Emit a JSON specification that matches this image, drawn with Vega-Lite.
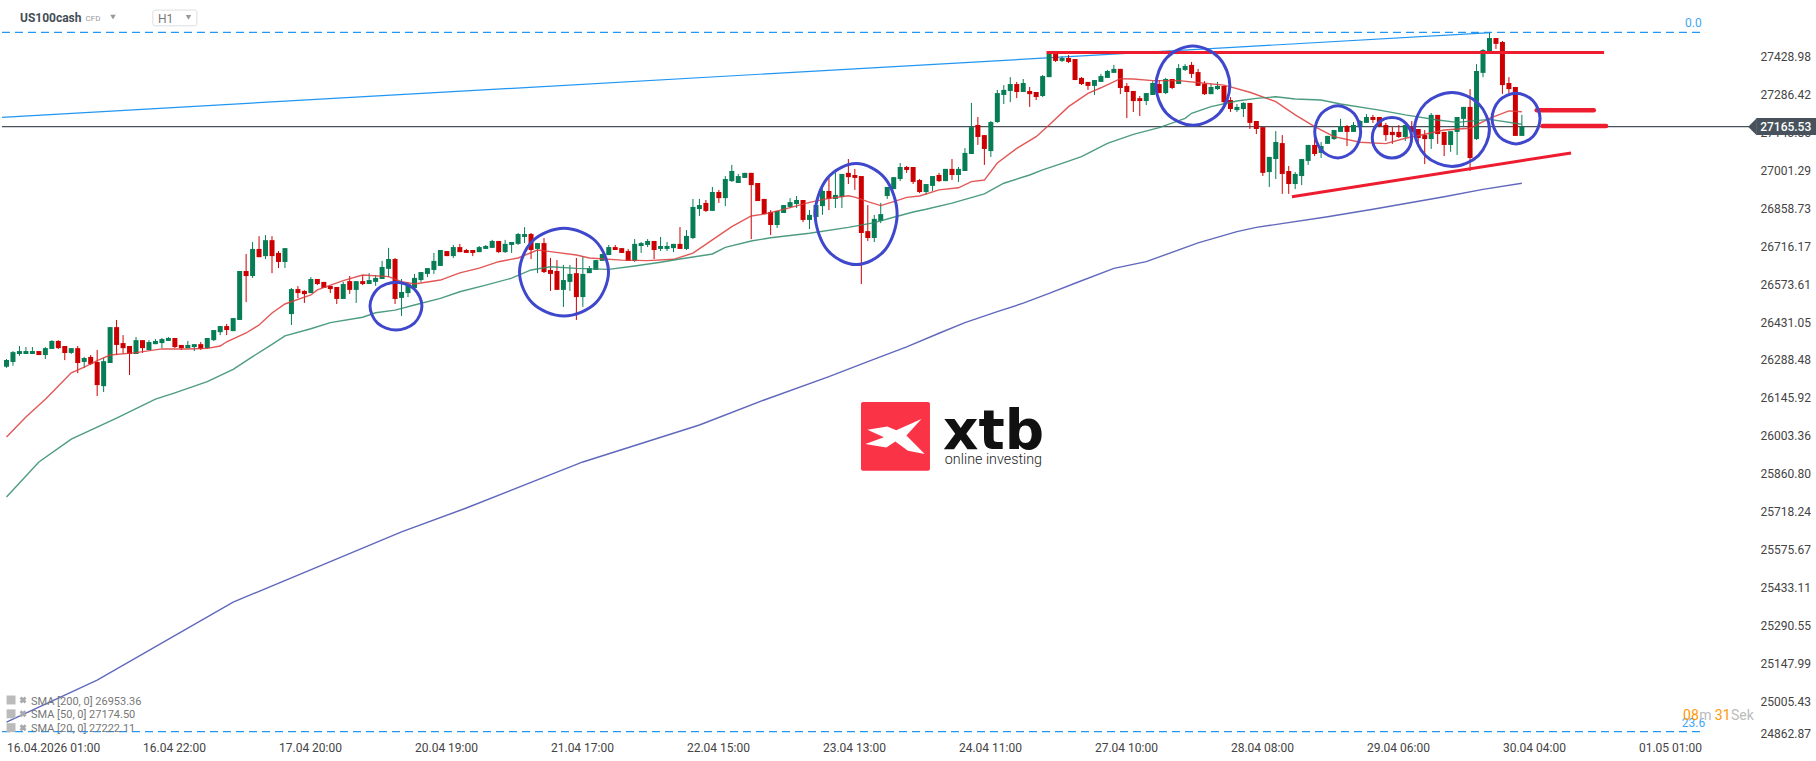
{
"$schema":"https://vega.github.io/schema/vega-lite/v6.json",
"width":1816,"height":761,"padding":0,"autosize":{"type":"none"},"background":"white",
"config":{"view":{"stroke":null}},
"datasets":{
"candles":[
{"bar":0,"o":26263,"h":26292,"l":26259,"c":26288},{"bar":1,"o":26281,"h":26322,"l":26267,"c":26318},{"bar":2,"o":26311,"h":26341,"l":26304,"c":26322},{"bar":3,"o":26311,"h":26337,"l":26311,"c":26322},{"bar":4,"o":26311,"h":26337,"l":26311,"c":26322},{"bar":5,"o":26322,"h":26322,"l":26307,"c":26307},{"bar":6,"o":26307,"h":26337,"l":26292,"c":26333},{"bar":7,"o":26330,"h":26363,"l":26330,"c":26360},{"bar":8,"o":26360,"h":26363,"l":26330,"c":26333},{"bar":9,"o":26341,"h":26341,"l":26288,"c":26315},
{"bar":10,"o":26315,"h":26333,"l":26311,"c":26333},{"bar":11,"o":26333,"h":26341,"l":26239,"c":26277},{"bar":12,"o":26281,"h":26300,"l":26258,"c":26296},{"bar":13,"o":26300,"h":26307,"l":26269,"c":26273},{"bar":14,"o":26281,"h":26326,"l":26153,"c":26194},{"bar":15,"o":26190,"h":26296,"l":26168,"c":26284},{"bar":16,"o":26277,"h":26412,"l":26277,"c":26412},{"bar":17,"o":26412,"h":26439,"l":26307,"c":26345},{"bar":18,"o":26352,"h":26382,"l":26311,"c":26333},{"bar":19,"o":26341,"h":26341,"l":26232,"c":26311},
{"bar":20,"o":26311,"h":26375,"l":26311,"c":26363},{"bar":21,"o":26363,"h":26363,"l":26315,"c":26333},{"bar":22,"o":26326,"h":26363,"l":26326,"c":26356},{"bar":23,"o":26348,"h":26367,"l":26348,"c":26360},{"bar":24,"o":26352,"h":26371,"l":26333,"c":26367},{"bar":25,"o":26360,"h":26375,"l":26360,"c":26371},{"bar":26,"o":26371,"h":26371,"l":26333,"c":26337},{"bar":27,"o":26345,"h":26345,"l":26326,"c":26333},{"bar":28,"o":26333,"h":26360,"l":26333,"c":26345},{"bar":29,"o":26337,"h":26348,"l":26322,"c":26348},
{"bar":30,"o":26348,"h":26356,"l":26326,"c":26330},{"bar":31,"o":26333,"h":26371,"l":26333,"c":26371},{"bar":32,"o":26363,"h":26401,"l":26360,"c":26401},{"bar":33,"o":26393,"h":26416,"l":26382,"c":26416},{"bar":34,"o":26416,"h":26424,"l":26382,"c":26401},{"bar":35,"o":26397,"h":26446,"l":26397,"c":26446},{"bar":36,"o":26439,"h":26623,"l":26439,"c":26623},{"bar":37,"o":26623,"h":26687,"l":26506,"c":26604},{"bar":38,"o":26604,"h":26732,"l":26597,"c":26706},{"bar":39,"o":26706,"h":26754,"l":26675,"c":26675},
{"bar":40,"o":26679,"h":26758,"l":26668,"c":26739},{"bar":41,"o":26739,"h":26754,"l":26615,"c":26679},{"bar":42,"o":26691,"h":26698,"l":26634,"c":26657},{"bar":43,"o":26657,"h":26709,"l":26634,"c":26709},{"bar":44,"o":26461,"h":26559,"l":26420,"c":26555},{"bar":45,"o":26555,"h":26566,"l":26521,"c":26540},{"bar":46,"o":26548,"h":26551,"l":26503,"c":26536},{"bar":47,"o":26540,"h":26600,"l":26540,"c":26593},{"bar":48,"o":26593,"h":26593,"l":26570,"c":26574},{"bar":49,"o":26582,"h":26582,"l":26559,"c":26559},
{"bar":50,"o":26567,"h":26567,"l":26540,"c":26555},{"bar":51,"o":26563,"h":26563,"l":26499,"c":26518},{"bar":52,"o":26518,"h":26582,"l":26518,"c":26574},{"bar":53,"o":26585,"h":26604,"l":26537,"c":26552},{"bar":54,"o":26552,"h":26585,"l":26503,"c":26585},{"bar":55,"o":26585,"h":26608,"l":26570,"c":26574},{"bar":56,"o":26574,"h":26615,"l":26574,"c":26589},{"bar":57,"o":26582,"h":26608,"l":26567,"c":26597},{"bar":58,"o":26593,"h":26661,"l":26593,"c":26638},{"bar":59,"o":26631,"h":26710,"l":26600,"c":26668},
{"bar":60,"o":26668,"h":26672,"l":26499,"c":26518},{"bar":61,"o":26522,"h":26593,"l":26454,"c":26544},{"bar":62,"o":26540,"h":26582,"l":26525,"c":26574},{"bar":63,"o":26559,"h":26612,"l":26559,"c":26597},{"bar":64,"o":26589,"h":26619,"l":26582,"c":26619},{"bar":65,"o":26612,"h":26634,"l":26600,"c":26634},{"bar":66,"o":26627,"h":26691,"l":26612,"c":26661},{"bar":67,"o":26642,"h":26702,"l":26642,"c":26702},{"bar":68,"o":26698,"h":26698,"l":26679,"c":26679},{"bar":69,"o":26679,"h":26721,"l":26672,"c":26713},
{"bar":70,"o":26713,"h":26725,"l":26694,"c":26694},{"bar":71,"o":26702,"h":26706,"l":26691,"c":26691},{"bar":72,"o":26702,"h":26702,"l":26679,"c":26691},{"bar":73,"o":26694,"h":26717,"l":26694,"c":26713},{"bar":74,"o":26706,"h":26721,"l":26706,"c":26717},{"bar":75,"o":26710,"h":26740,"l":26710,"c":26736},{"bar":76,"o":26736,"h":26736,"l":26691,"c":26694},{"bar":77,"o":26694,"h":26740,"l":26691,"c":26725},{"bar":78,"o":26721,"h":26732,"l":26691,"c":26732},{"bar":79,"o":26725,"h":26766,"l":26721,"c":26762},
{"bar":80,"o":26751,"h":26788,"l":26728,"c":26762},{"bar":81,"o":26762,"h":26766,"l":26668,"c":26702},{"bar":82,"o":26706,"h":26728,"l":26615,"c":26728},{"bar":83,"o":26728,"h":26747,"l":26615,"c":26619},{"bar":84,"o":26627,"h":26672,"l":26548,"c":26612},{"bar":85,"o":26623,"h":26664,"l":26552,"c":26552},{"bar":86,"o":26552,"h":26646,"l":26488,"c":26589},{"bar":87,"o":26582,"h":26646,"l":26548,"c":26612},{"bar":88,"o":26615,"h":26672,"l":26439,"c":26525},{"bar":89,"o":26525,"h":26679,"l":26488,"c":26612},
{"bar":90,"o":26615,"h":26642,"l":26615,"c":26634},{"bar":91,"o":26627,"h":26664,"l":26627,"c":26664},{"bar":92,"o":26661,"h":26687,"l":26661,"c":26687},{"bar":93,"o":26683,"h":26721,"l":26683,"c":26713},{"bar":94,"o":26713,"h":26721,"l":26702,"c":26702},{"bar":95,"o":26709,"h":26709,"l":26691,"c":26691},{"bar":96,"o":26698,"h":26706,"l":26661,"c":26661},{"bar":97,"o":26661,"h":26743,"l":26657,"c":26725},{"bar":98,"o":26717,"h":26732,"l":26691,"c":26728},{"bar":99,"o":26721,"h":26743,"l":26713,"c":26736},
{"bar":100,"o":26736,"h":26736,"l":26668,"c":26702},{"bar":101,"o":26706,"h":26751,"l":26698,"c":26717},{"bar":102,"o":26706,"h":26732,"l":26698,"c":26717},{"bar":103,"o":26709,"h":26725,"l":26694,"c":26725},{"bar":104,"o":26725,"h":26788,"l":26706,"c":26706},{"bar":105,"o":26706,"h":26777,"l":26702,"c":26755},{"bar":106,"o":26747,"h":26894,"l":26743,"c":26864},{"bar":107,"o":26856,"h":26894,"l":26830,"c":26871},{"bar":108,"o":26879,"h":26890,"l":26845,"c":26849},{"bar":109,"o":26849,"h":26939,"l":26849,"c":26920},
{"bar":110,"o":26920,"h":26928,"l":26879,"c":26897},{"bar":111,"o":26897,"h":26980,"l":26867,"c":26969},{"bar":112,"o":26961,"h":27022,"l":26958,"c":26999},{"bar":113,"o":26954,"h":26988,"l":26954,"c":26980},{"bar":114,"o":26973,"h":26992,"l":26973,"c":26992},{"bar":115,"o":26992,"h":26992,"l":26743,"c":26946},{"bar":116,"o":26954,"h":26954,"l":26886,"c":26886},{"bar":117,"o":26894,"h":26894,"l":26837,"c":26837},{"bar":118,"o":26845,"h":26852,"l":26758,"c":26796},{"bar":119,"o":26796,"h":26849,"l":26785,"c":26849},
{"bar":120,"o":26841,"h":26871,"l":26841,"c":26871},{"bar":121,"o":26864,"h":26897,"l":26860,"c":26882},{"bar":122,"o":26875,"h":26905,"l":26860,"c":26890},{"bar":123,"o":26890,"h":26890,"l":26807,"c":26815},{"bar":124,"o":26815,"h":26852,"l":26781,"c":26834},{"bar":125,"o":26826,"h":26871,"l":26811,"c":26871},{"bar":126,"o":26867,"h":26931,"l":26834,"c":26924},{"bar":127,"o":26924,"h":26973,"l":26852,"c":26894},{"bar":128,"o":26894,"h":26992,"l":26860,"c":26909},{"bar":129,"o":26901,"h":26988,"l":26860,"c":26988},
{"bar":130,"o":26992,"h":27044,"l":26950,"c":26976},{"bar":131,"o":26984,"h":27007,"l":26928,"c":26973},{"bar":132,"o":26980,"h":26980,"l":26574,"c":26766},{"bar":133,"o":26773,"h":26871,"l":26736,"c":26747},{"bar":134,"o":26747,"h":26834,"l":26732,"c":26819},{"bar":135,"o":26811,"h":26879,"l":26803,"c":26837},{"bar":136,"o":26905,"h":26939,"l":26894,"c":26939},{"bar":137,"o":26931,"h":26976,"l":26931,"c":26976},{"bar":138,"o":26969,"h":27029,"l":26961,"c":27014},{"bar":139,"o":27014,"h":27018,"l":26992,"c":27003},
{"bar":140,"o":27014,"h":27014,"l":26950,"c":26958},{"bar":141,"o":26965,"h":26969,"l":26916,"c":26920},{"bar":142,"o":26920,"h":26950,"l":26909,"c":26950},{"bar":143,"o":26943,"h":26980,"l":26924,"c":26980},{"bar":144,"o":26984,"h":26992,"l":26958,"c":26961},{"bar":145,"o":26961,"h":27007,"l":26961,"c":27007},{"bar":146,"o":27007,"h":27044,"l":26965,"c":26984},{"bar":147,"o":26984,"h":27014,"l":26958,"c":27007},{"bar":148,"o":26999,"h":27085,"l":26999,"c":27067},{"bar":149,"o":27063,"h":27255,"l":27063,"c":27164},
{"bar":150,"o":27172,"h":27202,"l":27097,"c":27127},{"bar":151,"o":27134,"h":27134,"l":27022,"c":27082},{"bar":152,"o":27074,"h":27187,"l":27052,"c":27183},{"bar":153,"o":27183,"h":27304,"l":27180,"c":27292},{"bar":154,"o":27285,"h":27322,"l":27251,"c":27304},{"bar":155,"o":27300,"h":27352,"l":27258,"c":27326},{"bar":156,"o":27326,"h":27334,"l":27273,"c":27296},{"bar":157,"o":27296,"h":27345,"l":27296,"c":27330},{"bar":158,"o":27300,"h":27315,"l":27240,"c":27288},{"bar":159,"o":27296,"h":27296,"l":27266,"c":27277},
{"bar":160,"o":27281,"h":27360,"l":27277,"c":27356},{"bar":161,"o":27352,"h":27443,"l":27352,"c":27443},{"bar":162,"o":27443,"h":27443,"l":27409,"c":27413},{"bar":163,"o":27413,"h":27431,"l":27409,"c":27424},{"bar":164,"o":27424,"h":27435,"l":27405,"c":27409},{"bar":165,"o":27420,"h":27420,"l":27341,"c":27341},{"bar":166,"o":27349,"h":27352,"l":27322,"c":27326},{"bar":167,"o":27334,"h":27334,"l":27304,"c":27319},{"bar":168,"o":27319,"h":27341,"l":27285,"c":27341},{"bar":169,"o":27334,"h":27364,"l":27334,"c":27356},
{"bar":170,"o":27349,"h":27379,"l":27349,"c":27375},{"bar":171,"o":27368,"h":27398,"l":27368,"c":27383},{"bar":172,"o":27383,"h":27383,"l":27288,"c":27311},{"bar":173,"o":27319,"h":27330,"l":27198,"c":27296},{"bar":174,"o":27300,"h":27300,"l":27221,"c":27262},{"bar":175,"o":27273,"h":27281,"l":27206,"c":27262},{"bar":176,"o":27262,"h":27292,"l":27247,"c":27292},{"bar":177,"o":27285,"h":27337,"l":27285,"c":27330},{"bar":178,"o":27326,"h":27341,"l":27292,"c":27292},{"bar":179,"o":27292,"h":27349,"l":27288,"c":27345},
{"bar":180,"o":27345,"h":27345,"l":27307,"c":27311},{"bar":181,"o":27326,"h":27401,"l":27326,"c":27386},{"bar":182,"o":27379,"h":27401,"l":27375,"c":27394},{"bar":183,"o":27398,"h":27409,"l":27349,"c":27364},{"bar":184,"o":27371,"h":27383,"l":27319,"c":27319},{"bar":185,"o":27326,"h":27337,"l":27285,"c":27288},{"bar":186,"o":27288,"h":27326,"l":27288,"c":27315},{"bar":187,"o":27307,"h":27334,"l":27304,"c":27319},{"bar":188,"o":27319,"h":27319,"l":27251,"c":27258},{"bar":189,"o":27266,"h":27277,"l":27221,"c":27232},
{"bar":190,"o":27228,"h":27251,"l":27221,"c":27240},{"bar":191,"o":27232,"h":27258,"l":27202,"c":27255},{"bar":192,"o":27255,"h":27255,"l":27157,"c":27180},{"bar":193,"o":27187,"h":27187,"l":27138,"c":27157},{"bar":194,"o":27164,"h":27164,"l":26980,"c":26992},{"bar":195,"o":26995,"h":27052,"l":26939,"c":27052},{"bar":196,"o":27044,"h":27149,"l":26969,"c":27108},{"bar":197,"o":27104,"h":27134,"l":26913,"c":26988},{"bar":198,"o":26999,"h":27018,"l":26913,"c":26950},{"bar":199,"o":26950,"h":26995,"l":26931,"c":26988},
{"bar":200,"o":26980,"h":27044,"l":26946,"c":27044},{"bar":201,"o":27037,"h":27097,"l":27022,"c":27097},{"bar":202,"o":27097,"h":27123,"l":27055,"c":27063},{"bar":203,"o":27067,"h":27108,"l":27048,"c":27093},{"bar":204,"o":27101,"h":27131,"l":27101,"c":27131},{"bar":205,"o":27119,"h":27153,"l":27116,"c":27153},{"bar":206,"o":27146,"h":27195,"l":27146,"c":27168},{"bar":207,"o":27168,"h":27172,"l":27093,"c":27146},{"bar":208,"o":27146,"h":27183,"l":27146,"c":27172},{"bar":209,"o":27164,"h":27191,"l":27164,"c":27187},
{"bar":210,"o":27180,"h":27213,"l":27180,"c":27202},{"bar":211,"o":27202,"h":27210,"l":27180,"c":27191},{"bar":212,"o":27202,"h":27202,"l":27164,"c":27168},{"bar":213,"o":27172,"h":27180,"l":27112,"c":27134},{"bar":214,"o":27146,"h":27164,"l":27101,"c":27134},{"bar":215,"o":27146,"h":27172,"l":27123,"c":27127},{"bar":216,"o":27127,"h":27172,"l":27112,"c":27172},{"bar":217,"o":27164,"h":27187,"l":27112,"c":27146},{"bar":218,"o":27157,"h":27157,"l":27089,"c":27123},{"bar":219,"o":27134,"h":27153,"l":27025,"c":27119},
{"bar":220,"o":27119,"h":27217,"l":27082,"c":27210},{"bar":221,"o":27210,"h":27210,"l":27101,"c":27138},{"bar":222,"o":27146,"h":27146,"l":27055,"c":27097},{"bar":223,"o":27097,"h":27149,"l":27071,"c":27149},{"bar":224,"o":27146,"h":27202,"l":27059,"c":27202},{"bar":225,"o":27195,"h":27240,"l":27164,"c":27240},{"bar":226,"o":27240,"h":27307,"l":26999,"c":27048},{"bar":227,"o":27119,"h":27401,"l":27116,"c":27375},{"bar":228,"o":27368,"h":27458,"l":27352,"c":27454},{"bar":229,"o":27450,"h":27518,"l":27450,"c":27499},
{"bar":230,"o":27499,"h":27499,"l":27458,"c":27477},{"bar":231,"o":27484,"h":27488,"l":27289,"c":27322},{"bar":232,"o":27330,"h":27352,"l":27289,"c":27307},{"bar":233,"o":27315,"h":27315,"l":27131,"c":27131},{"bar":234,"o":27131,"h":27210,"l":27131,"c":27166}
],
"sma":[
{"series":"SMA 20","bar":0,"price":25999},{"series":"SMA 20","bar":3,"price":26074},{"series":"SMA 20","bar":6,"price":26141},{"series":"SMA 20","bar":7,"price":26165},{"series":"SMA 20","bar":10,"price":26240},{"series":"SMA 20","bar":12,"price":26262},{"series":"SMA 20","bar":14,"price":26286},{"series":"SMA 20","bar":16,"price":26307},{"series":"SMA 20","bar":20,"price":26316},{"series":"SMA 20","bar":24,"price":26330},{"series":"SMA 20","bar":28,"price":26330},{"series":"SMA 20","bar":31,"price":26332},{"series":"SMA 20","bar":33,"price":26341},{"series":"SMA 20","bar":34,"price":26357},{"series":"SMA 20","bar":37,"price":26390},{"series":"SMA 20","bar":39,"price":26420},{"series":"SMA 20","bar":41,"price":26465},{"series":"SMA 20","bar":43,"price":26499},{"series":"SMA 20","bar":47,"price":26533},{"series":"SMA 20","bar":48,"price":26552},{"series":"SMA 20","bar":52,"price":26587},{"series":"SMA 20","bar":55,"price":26608},{"series":"SMA 20","bar":59,"price":26602},{"series":"SMA 20","bar":61,"price":26583},{"series":"SMA 20","bar":63,"price":26574},{"series":"SMA 20","bar":67,"price":26589},{"series":"SMA 20","bar":70,"price":26616},{"series":"SMA 20","bar":73,"price":26634},{"series":"SMA 20","bar":76,"price":26658},{"series":"SMA 20","bar":79,"price":26672},{"series":"SMA 20","bar":82,"price":26702},{"series":"SMA 20","bar":84,"price":26696},{"series":"SMA 20","bar":88,"price":26683},{"series":"SMA 20","bar":90,"price":26672},{"series":"SMA 20","bar":95,"price":26664},{"series":"SMA 20","bar":99,"price":26662},{"series":"SMA 20","bar":103,"price":26667},{"series":"SMA 20","bar":106,"price":26690},{"series":"SMA 20","bar":109,"price":26740},{"series":"SMA 20","bar":112,"price":26790},{"series":"SMA 20","bar":115,"price":26830},{"series":"SMA 20","bar":117,"price":26837},{"series":"SMA 20","bar":120,"price":26855},{"series":"SMA 20","bar":124,"price":26881},{"series":"SMA 20","bar":127,"price":26896},{"series":"SMA 20","bar":130,"price":26906},{"series":"SMA 20","bar":131,"price":26901},{"series":"SMA 20","bar":133,"price":26884},{"series":"SMA 20","bar":135,"price":26869},{"series":"SMA 20","bar":137,"price":26884},{"series":"SMA 20","bar":139,"price":26900},{"series":"SMA 20","bar":141,"price":26905},{"series":"SMA 20","bar":144,"price":26928},{"series":"SMA 20","bar":147,"price":26936},{"series":"SMA 20","bar":149,"price":26959},{"series":"SMA 20","bar":151,"price":26965},{"series":"SMA 20","bar":153,"price":27029},{"series":"SMA 20","bar":156,"price":27084},{"series":"SMA 20","bar":159,"price":27128},{"series":"SMA 20","bar":161,"price":27172},{"series":"SMA 20","bar":164,"price":27241},{"series":"SMA 20","bar":167,"price":27291},{"series":"SMA 20","bar":169,"price":27312},{"series":"SMA 20","bar":172,"price":27346},{"series":"SMA 20","bar":174,"price":27345},{"series":"SMA 20","bar":177,"price":27339},{"series":"SMA 20","bar":181,"price":27339},{"series":"SMA 20","bar":185,"price":27329},{"series":"SMA 20","bar":188,"price":27322},{"series":"SMA 20","bar":192,"price":27295},{"series":"SMA 20","bar":196,"price":27260},{"series":"SMA 20","bar":199,"price":27210},{"series":"SMA 20","bar":202,"price":27166},{"series":"SMA 20","bar":205,"price":27128},{"series":"SMA 20","bar":209,"price":27107},{"series":"SMA 20","bar":213,"price":27102},{"series":"SMA 20","bar":216,"price":27122},{"series":"SMA 20","bar":219,"price":27137},{"series":"SMA 20","bar":222,"price":27153},{"series":"SMA 20","bar":226,"price":27160},{"series":"SMA 20","bar":229,"price":27197},{"series":"SMA 20","bar":232,"price":27225},{"series":"SMA 20","bar":234,"price":27222},
{"series":"SMA 50","bar":0,"price":25773},{"series":"SMA 50","bar":5,"price":25905},{"series":"SMA 50","bar":10,"price":25991},{"series":"SMA 50","bar":17,"price":26070},{"series":"SMA 50","bar":23,"price":26141},{"series":"SMA 50","bar":26,"price":26165},{"series":"SMA 50","bar":31,"price":26207},{"series":"SMA 50","bar":35,"price":26253},{"series":"SMA 50","bar":38,"price":26301},{"series":"SMA 50","bar":41,"price":26347},{"series":"SMA 50","bar":43,"price":26379},{"series":"SMA 50","bar":47,"price":26406},{"series":"SMA 50","bar":50,"price":26429},{"series":"SMA 50","bar":55,"price":26449},{"series":"SMA 50","bar":57,"price":26466},{"series":"SMA 50","bar":60,"price":26476},{"series":"SMA 50","bar":63,"price":26495},{"series":"SMA 50","bar":67,"price":26520},{"series":"SMA 50","bar":70,"price":26545},{"series":"SMA 50","bar":74,"price":26570},{"series":"SMA 50","bar":78,"price":26596},{"series":"SMA 50","bar":81,"price":26627},{"series":"SMA 50","bar":84,"price":26639},{"series":"SMA 50","bar":88,"price":26633},{"series":"SMA 50","bar":93,"price":26629},{"series":"SMA 50","bar":97,"price":26642},{"series":"SMA 50","bar":101,"price":26656},{"series":"SMA 50","bar":104,"price":26668},{"series":"SMA 50","bar":109,"price":26687},{"series":"SMA 50","bar":111,"price":26712},{"series":"SMA 50","bar":115,"price":26736},{"series":"SMA 50","bar":118,"price":26748},{"series":"SMA 50","bar":124,"price":26765},{"series":"SMA 50","bar":130,"price":26787},{"series":"SMA 50","bar":134,"price":26805},{"series":"SMA 50","bar":137,"price":26825},{"series":"SMA 50","bar":140,"price":26845},{"series":"SMA 50","bar":142,"price":26855},{"series":"SMA 50","bar":146,"price":26878},{"series":"SMA 50","bar":151,"price":26913},{"series":"SMA 50","bar":154,"price":26953},{"series":"SMA 50","bar":158,"price":26984},{"series":"SMA 50","bar":160,"price":27003},{"series":"SMA 50","bar":163,"price":27028},{"series":"SMA 50","bar":166,"price":27053},{"series":"SMA 50","bar":170,"price":27103},{"series":"SMA 50","bar":174,"price":27137},{"series":"SMA 50","bar":178,"price":27162},{"series":"SMA 50","bar":182,"price":27197},{"series":"SMA 50","bar":183,"price":27216},{"series":"SMA 50","bar":186,"price":27241},{"series":"SMA 50","bar":190,"price":27262},{"series":"SMA 50","bar":193,"price":27272},{"series":"SMA 50","bar":196,"price":27278},{"series":"SMA 50","bar":199,"price":27270},{"series":"SMA 50","bar":203,"price":27266},{"series":"SMA 50","bar":206,"price":27251},{"series":"SMA 50","bar":212,"price":27228},{"series":"SMA 50","bar":216,"price":27210},{"series":"SMA 50","bar":221,"price":27191},{"series":"SMA 50","bar":224,"price":27182},{"series":"SMA 50","bar":229,"price":27193},{"series":"SMA 50","bar":234,"price":27175},
{"series":"SMA 200","bar":0,"price":24927},{"series":"SMA 200","bar":14,"price":25085},{"series":"SMA 200","bar":35,"price":25378},{"series":"SMA 200","bar":61,"price":25642},{"series":"SMA 200","bar":71,"price":25732},{"series":"SMA 200","bar":89,"price":25905},{"series":"SMA 200","bar":107,"price":26044},{"series":"SMA 200","bar":117,"price":26138},{"series":"SMA 200","bar":127,"price":26226},{"series":"SMA 200","bar":133,"price":26282},{"series":"SMA 200","bar":139,"price":26338},{"series":"SMA 200","bar":144,"price":26389},{"series":"SMA 200","bar":148,"price":26429},{"series":"SMA 200","bar":153,"price":26470},{"series":"SMA 200","bar":157,"price":26502},{"series":"SMA 200","bar":161,"price":26539},{"series":"SMA 200","bar":165,"price":26577},{"series":"SMA 200","bar":171,"price":26633},{"series":"SMA 200","bar":176,"price":26658},{"series":"SMA 200","bar":184,"price":26729},{"series":"SMA 200","bar":190,"price":26771},{"series":"SMA 200","bar":193,"price":26787},{"series":"SMA 200","bar":204,"price":26827},{"series":"SMA 200","bar":211,"price":26855},{"series":"SMA 200","bar":222,"price":26902},{"series":"SMA 200","bar":228,"price":26930},{"series":"SMA 200","bar":234,"price":26953}
],
"rings":[
{"ring":1,"seq":0,"bar":64.15,"price":26491},{"ring":1,"seq":1,"bar":62.98,"price":26555},{"ring":1,"seq":2,"bar":60.14,"price":26581},{"ring":1,"seq":3,"bar":57.3,"price":26555},{"ring":1,"seq":4,"bar":56.13,"price":26491},{"ring":1,"seq":5,"bar":57.3,"price":26427},{"ring":1,"seq":6,"bar":60.14,"price":26401},{"ring":1,"seq":7,"bar":62.98,"price":26427},
{"ring":2,"seq":0,"bar":92.96,"price":26619},{"ring":2,"seq":1,"bar":90.95,"price":26736},{"ring":2,"seq":2,"bar":86.09,"price":26784},{"ring":2,"seq":3,"bar":81.23,"price":26736},{"ring":2,"seq":4,"bar":79.22,"price":26619},{"ring":2,"seq":5,"bar":81.23,"price":26502},{"ring":2,"seq":6,"bar":86.09,"price":26454},{"ring":2,"seq":7,"bar":90.95,"price":26502},
{"ring":3,"seq":0,"bar":137.53,"price":26837},{"ring":3,"seq":1,"bar":135.68,"price":26971},{"ring":3,"seq":2,"bar":131.2,"price":27027},{"ring":3,"seq":3,"bar":126.72,"price":26971},{"ring":3,"seq":4,"bar":124.87,"price":26837},{"ring":3,"seq":5,"bar":126.72,"price":26703},{"ring":3,"seq":6,"bar":131.2,"price":26647},{"ring":3,"seq":7,"bar":135.68,"price":26703},
{"ring":4,"seq":0,"bar":188.91,"price":27320},{"ring":4,"seq":1,"bar":187.24,"price":27425},{"ring":4,"seq":2,"bar":183.2,"price":27469},{"ring":4,"seq":3,"bar":179.16,"price":27425},{"ring":4,"seq":4,"bar":177.49,"price":27320},{"ring":4,"seq":5,"bar":179.16,"price":27215},{"ring":4,"seq":6,"bar":183.2,"price":27171},{"ring":4,"seq":7,"bar":187.24,"price":27215},
{"ring":5,"seq":0,"bar":209.11,"price":27146},{"ring":5,"seq":1,"bar":208.07,"price":27215},{"ring":5,"seq":2,"bar":205.56,"price":27244},{"ring":5,"seq":3,"bar":203.05,"price":27215},{"ring":5,"seq":4,"bar":202.01,"price":27146},{"ring":5,"seq":5,"bar":203.05,"price":27077},{"ring":5,"seq":6,"bar":205.56,"price":27048},{"ring":5,"seq":7,"bar":208.07,"price":27077},
{"ring":6,"seq":0,"bar":216.98,"price":27124},{"ring":6,"seq":1,"bar":216.09,"price":27178},{"ring":6,"seq":2,"bar":213.94,"price":27200},{"ring":6,"seq":3,"bar":211.79,"price":27178},{"ring":6,"seq":4,"bar":210.9,"price":27124},{"ring":6,"seq":5,"bar":211.79,"price":27070},{"ring":6,"seq":6,"bar":213.94,"price":27048},{"ring":6,"seq":7,"bar":216.09,"price":27070},
{"ring":7,"seq":0,"bar":228.99,"price":27155},{"ring":7,"seq":1,"bar":227.29,"price":27253},{"ring":7,"seq":2,"bar":223.2,"price":27294},{"ring":7,"seq":3,"bar":219.11,"price":27253},{"ring":7,"seq":4,"bar":217.41,"price":27155},{"ring":7,"seq":5,"bar":219.11,"price":27057},{"ring":7,"seq":6,"bar":223.2,"price":27016},{"ring":7,"seq":7,"bar":227.29,"price":27057},
{"ring":8,"seq":0,"bar":236.81,"price":27196},{"ring":8,"seq":1,"bar":235.72,"price":27263},{"ring":8,"seq":2,"bar":233.1,"price":27291},{"ring":8,"seq":3,"bar":230.48,"price":27263},{"ring":8,"seq":4,"bar":229.39,"price":27196},{"ring":8,"seq":5,"bar":230.48,"price":27129},{"ring":8,"seq":6,"bar":233.1,"price":27101},{"ring":8,"seq":7,"bar":235.72,"price":27129}
]
},
"encoding":{
"x":{"field":"bar","type":"quantitative","scale":{"domain":[-1.004,279.42],"nice":false,"zero":false,"padding":0},"axis":{"title":null,"orient":"bottom","offset":-14,"domain":false,"ticks":false,"grid":false,"values":[0,21,42,63,84,105,126,147,168,189,210,231,252],"labelExpr":"['16.04.2026 01:00','16.04 22:00','17.04 20:00','20.04 19:00','21.04 17:00','22.04 15:00','23.04 13:00','24.04 11:00','27.04 10:00','28.04 08:00','29.04 06:00','30.04 04:00','01.05 01:00'][datum.value/21]","labelAlign":"left","labelBaseline":"middle","labelPadding":0,"labelFont":"Roboto","labelFontSize":12,"labelColor":"#444444","labelOverlap":false,"labelFlush":false,"labelBound":false}},
"y":{"field":"price","type":"quantitative","scale":{"domain":[24780.6,27642],"nice":false,"zero":false},"axis":{"title":null,"orient":"right","offset":-56,"domain":false,"ticks":false,"grid":false,"values":[27428.98,27286.42,27143.85,27001.29,26858.73,26716.17,26573.61,26431.05,26288.48,26145.92,26003.36,25860.80,25718.24,25575.67,25433.11,25290.55,25147.99,25005.43,24885],"labelExpr":"datum.value==24885?'24862.87':format(datum.value,'.2f')","labelAlign":"left","labelPadding":0,"labelFont":"Roboto","labelFontSize":12,"labelColor":"#444444","labelOverlap":false,"labelBound":false,"labelFlush":false}}
},
"layer":[
{"data":{"values":[{"name":"top","bar":-0.7,"price":27520},{"name":"top","bar":262.3,"price":27520},{"name":"bottom","bar":-0.7,"price":24891},{"name":"bottom","bar":262.3,"price":24891}]},
"mark":{"type":"line","color":"#2196f3","strokeWidth":1.2,"strokeDash":[8,5]},
"encoding":{"detail":{"field":"name"}}},
{"data":{"values":[{"bar":-0.7,"price":27201},{"bar":229.2,"price":27519}]},
"mark":{"type":"line","color":"#2196f3","strokeWidth":1.2},
"encoding":{}},
{"data":{"values":[{"bar":-0.7,"price":27165.53},{"bar":269.1,"price":27165.53}]},
"mark":{"type":"line","color":"#47525c","strokeWidth":1.3},
"encoding":{}},
{"data":{"name":"candles"},
"mark":{"type":"rule","strokeWidth":1},
"encoding":{"y":{"field":"h","type":"quantitative"},"y2":{"field":"l"},"color":{"condition":{"test":"datum.c>datum.o","value":"#067d55"},"value":"#cc0000"}}},
{"data":{"name":"candles"},
"mark":{"type":"bar","width":5},
"encoding":{"y":{"field":"o","type":"quantitative"},"y2":{"field":"c"},"color":{"condition":{"test":"datum.c>datum.o","value":"#067d55"},"value":"#cc0000"}}},
{"data":{"name":"sma"},
"mark":{"type":"line","strokeWidth":1.4,"opacity":0.85},
"encoding":{"color":{"field":"series","type":"nominal","legend":null,"scale":{"domain":["SMA 20","SMA 50","SMA 200"],"range":["#dd3a3a","#2e8b68","#434eb0"]}}}},
{"data":{"values":[{"name":"top","bar":160.6,"price":27445},{"name":"top","bar":246.7,"price":27445},{"name":"support","bar":198.5,"price":26902},{"name":"support","bar":241.6,"price":27067}]},
"mark":{"type":"line","color":"#ed1c2e","strokeWidth":3},
"encoding":{"detail":{"field":"name"}}},
{"data":{"values":[{"name":"a","bar":236.3,"price":27227},{"name":"a","bar":245.1,"price":27227},{"name":"b","bar":237.2,"price":27168},{"name":"b","bar":247,"price":27168}]},
"mark":{"type":"line","color":"#ed1c2e","strokeWidth":4.5,"strokeCap":"round"},
"encoding":{"detail":{"field":"name"}}},
{"data":{"name":"rings"},
"mark":{"type":"line","interpolate":"cardinal-closed","color":"#3f48cc","strokeWidth":3},
"encoding":{"detail":{"field":"ring"},"order":{"field":"seq"}}},
{"data":{"values":[{"bar":270.2,"bar2":279.42,"top":27198,"low":27134}]},
"mark":{"type":"rect","color":"#47525c"},
"encoding":{"x2":{"field":"bar2"},"y":{"field":"top","type":"quantitative"},"y2":{"field":"low"}}},
{"data":{"values":[{"bar":269.6,"price":27165.53}]},
"mark":{"type":"point","shape":"M-0.5,0L0.5,-1L0.5,1Z","size":289,"filled":true,"opacity":1,"color":"#47525c"},
"encoding":{}},
{"data":{"values":[{"bar":270.8,"price":27165.53,"label":"27165.53"}]},
"mark":{"type":"text","align":"left","baseline":"middle","font":"Roboto","fontSize":12,"fontWeight":500,"color":"white"},
"encoding":{"text":{"field":"label"}}},
{"data":{"values":[{"bar":131.95,"bar2":142.6,"top":26130,"low":25872}]},
"mark":{"type":"rect","color":"#fa3346","cornerRadius":2},
"encoding":{"x2":{"field":"bar2"},"y":{"field":"top","type":"quantitative"},"y2":{"field":"low"}}},
{"data":{"values":[{"bar":137.25,"price":26001.5}]},
"mark":{"type":"point","shape":"M-0.93,-0.22L-0.27,-0.33L0.03,-0.2L0.87,-0.58L0.37,-0.03L0.98,0.59L0.42,0.48L0,0.17L-0.3,0.37L-1,0.26L-0.38,0.03Z","size":3600,"filled":true,"opacity":1,"color":"white"},
"encoding":{}},
{"data":{"values":[{"bar":144.6,"price":25954,"label":"xtb"}]},
"mark":{"type":"text","align":"left","baseline":"alphabetic","font":"DejaVu Sans","fontWeight":"bold","fontSize":55,"color":"#111111"},
"encoding":{"text":{"field":"label"}}},
{"data":{"values":[{"bar":144.9,"price":25897,"label":"online investing"}]},
"mark":{"type":"text","align":"left","baseline":"alphabetic","font":"Roboto","fontWeight":300,"fontSize":14.3,"color":"#222222"},
"encoding":{"text":{"field":"label"}}},
{"data":{"values":[{"bar":2.08,"price":27574,"label":"US100cash"}]},
"mark":{"type":"text","align":"left","baseline":"middle","font":"Roboto","fontWeight":"bold","fontSize":12,"color":"#444e56"},
"encoding":{"text":{"field":"label"}}},
{"data":{"values":[{"bar":12.2,"price":27571,"label":"CFD"}]},
"mark":{"type":"text","align":"left","baseline":"middle","font":"Roboto","fontSize":8,"color":"#999999"},
"encoding":{"text":{"field":"label"}}},
{"data":{"values":[{"bar":22.6,"bar2":29.4,"top":27604,"low":27545}]},
"mark":{"type":"rect","fill":"white","stroke":"#dddddd","strokeWidth":1,"cornerRadius":2},
"encoding":{"x2":{"field":"bar2"},"y":{"field":"top","type":"quantitative"},"y2":{"field":"low"}}},
{"data":{"values":[{"bar":23.4,"price":27572,"label":"H1"}]},
"mark":{"type":"text","align":"left","baseline":"middle","font":"Roboto","fontSize":12,"color":"#777777"},
"encoding":{"text":{"field":"label"}}},
{"data":{"values":[{"bar":16.45,"price":27578},{"bar":28.1,"price":27577}]},
"mark":{"type":"point","shape":"triangle-down","size":30,"filled":true,"opacity":1,"color":"#999999"},
"encoding":{}},
{"data":{"values":[{"bar":259.2,"price":27556,"label":"0.0"},{"bar":258.7,"price":24924,"label":"23.6"}]},
"mark":{"type":"text","align":"left","baseline":"middle","font":"Roboto","fontSize":12,"color":"#42a5f5"},
"encoding":{"text":{"field":"label"}}},
{"data":{"values":[{"bar":258.9,"price":24950,"label":"08"},{"bar":263.8,"price":24950,"label":"31"}]},
"mark":{"type":"text","align":"left","baseline":"middle","font":"Roboto","fontSize":14,"color":"#ff9800"},
"encoding":{"text":{"field":"label"}}},
{"data":{"values":[{"bar":261.4,"price":24950,"label":"m"},{"bar":266.3,"price":24950,"label":"Sek"}]},
"mark":{"type":"text","align":"left","baseline":"middle","font":"Roboto","fontSize":14,"color":"#bbbbbb"},
"encoding":{"text":{"field":"label"}}},
{"data":{"values":[{"bar":0.7,"price":25010},{"bar":0.7,"price":24958},{"bar":0.7,"price":24906}]},
"mark":{"type":"point","shape":"square","size":80,"filled":true,"opacity":1,"color":"#bbbbbb"},
"encoding":{}},
{"data":{"values":[{"bar":2.55,"price":25010},{"bar":2.55,"price":24958},{"bar":2.55,"price":24906}]},
"mark":{"type":"point","shape":"cross","angle":45,"size":50,"filled":true,"opacity":1,"color":"#aaaaaa"},
"encoding":{}},
{"data":{"values":[{"bar":3.78,"price":25004,"label":"SMA [200, 0] 26953.36"},{"bar":3.78,"price":24954,"label":"SMA [50, 0] 27174.50"},{"bar":3.78,"price":24901,"label":"SMA [20, 0] 27222.11"}]},
"mark":{"type":"text","align":"left","baseline":"middle","font":"Roboto","fontSize":11,"color":"#777777"},
"encoding":{"text":{"field":"label"}}}
]
}
